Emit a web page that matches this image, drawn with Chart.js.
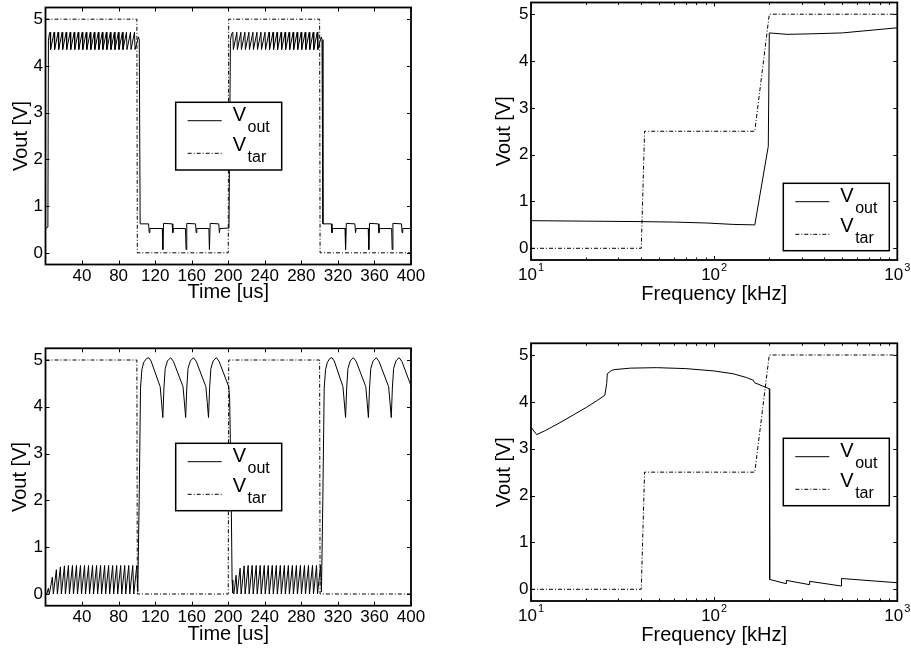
<!DOCTYPE html>
<html><head><meta charset="utf-8">
<script src="https://cdn.jsdelivr.net/npm/chart.js@4.4.1/dist/chart.umd.min.js"></script>
<style>
html,body{margin:0;padding:0;background:#fff;width:911px;height:654px;overflow:hidden}
.box{position:absolute}
</style></head><body>
<div class="box" style="left:0;top:0;width:455px;height:327px"><canvas id="c1"></canvas></div>
<div class="box" style="left:455px;top:0;width:456px;height:327px"><canvas id="c2"></canvas></div>
<div class="box" style="left:0;top:327px;width:455px;height:327px"><canvas id="c3"></canvas></div>
<div class="box" style="left:455px;top:327px;width:456px;height:327px"><canvas id="c4"></canvas></div>
<script>
// ---------- tick labels / categories ----------
const timeTicks = [40, 80, 120, 160, 200, 240, 280, 320, 360, 400];
const voltTicks = [0, 1, 2, 3, 4, 5];
const freqTicks = [10, 100, 1000];
const freqTickLabels = [['10', '1'], ['10', '2'], ['10', '3']];
const freqMinorTicks = [20, 30, 40, 50, 60, 70, 80, 90, 200, 300, 400, 500, 600, 700, 800, 900];
const legendMain = ['V', 'V'];
const legendSub = ['out', 'tar'];

// ---------- target voltage ----------
const timeVtar = [[0,5],[100,5],[100.5,0],[200,0],[200.5,5],[300,5],[300.5,0],[400,0]];
const freqVtar = [[10,0],[40,0],[41.7,2.5],[166.7,2.5],[200,5],[1000,5]];

// ---------- case A, time domain (top left) ----------
const timeA_high1 = [[0,0.52],[2.6,0.55],[3.2,4.55],[4.2,4.68],
 [5.0,4.72],[5.6,4.35],[9.4,4.72],[10.0,4.35],[13.8,4.72],[14.4,4.35],[18.2,4.72],[18.8,4.35],
 [22.6,4.72],[23.2,4.35],[27.0,4.72],[27.6,4.35],[31.4,4.72],[32.0,4.35],[35.8,4.72],[36.4,4.35],
 [40.2,4.72],[40.8,4.35],[44.6,4.72],[45.2,4.35],[49.0,4.72],[49.6,4.35],[53.4,4.72],[54.0,4.35],
 [57.8,4.72],[58.4,4.35],[62.2,4.72],[62.8,4.35],[66.6,4.72],[67.2,4.35],[71.0,4.72],[71.6,4.35],
 [75.4,4.72],[76.0,4.35],[79.8,4.72],[80.4,4.35],[84.2,4.72],[84.8,4.35],[88.6,4.72],[89.2,4.35],
 [93.0,4.72],[93.6,4.35],[97.4,4.72],[98.0,4.35],[101.8,4.62],[102.6,4.56]];
const timeA_low1 = [[103.6,0.62],[112.8,0.62],[113.5,0.43],[114.2,0.52],[127.8,0.52],[128.4,0.07],[129.2,0.63],
 [138.6,0.62],[139.3,0.43],[140.0,0.52],[153.2,0.52],[153.8,0.07],[154.6,0.63],[164.2,0.62],[164.9,0.43],
 [165.6,0.52],[178.8,0.52],[179.4,0.07],[180.2,0.63],[189.6,0.62],[190.3,0.43],[191.0,0.52],[200.8,0.53],
 [202.4,4.55],[203.6,4.68]];
const timeA_high2 = [[205.0,4.72],[205.6,4.35],[209.4,4.72],[210.0,4.35],[213.8,4.72],[214.4,4.35],[218.2,4.72],[218.8,4.35],
 [222.6,4.72],[223.2,4.35],[227.0,4.72],[227.6,4.35],[231.4,4.72],[232.0,4.35],[235.8,4.72],[236.4,4.35],
 [240.2,4.72],[240.8,4.35],[244.6,4.72],[245.2,4.35],[249.0,4.72],[249.6,4.35],[253.4,4.72],[254.0,4.35],
 [257.8,4.72],[258.4,4.35],[262.2,4.72],[262.8,4.35],[266.6,4.72],[267.2,4.35],[271.0,4.72],[271.6,4.35],
 [275.4,4.72],[276.0,4.35],[279.8,4.72],[280.4,4.35],[284.2,4.72],[284.8,4.35],[288.6,4.72],[289.2,4.35],
 [293.0,4.72],[293.6,4.35],[297.4,4.72],[298.0,4.35],[301.8,4.62],[302.6,4.56]];
const timeA_low2 = [[303.6,0.62],[312.8,0.62],[313.5,0.43],[314.2,0.52],[327.8,0.52],[328.4,0.07],[329.2,0.63],
 [338.6,0.62],[339.3,0.43],[340.0,0.52],[353.2,0.52],[353.8,0.07],[354.6,0.63],[364.2,0.62],[364.9,0.43],
 [365.6,0.52],[378.8,0.52],[379.4,0.07],[380.2,0.63],[389.6,0.62],[390.3,0.43],[391.0,0.52],[400,0.52]];

// ---------- case B, time domain (bottom left) ----------
const timeB_low1 = [[0,0.03],[1.5,0.0],[3.1,0.12],[4.2,0.0],[7.5,0.36],[8.6,0.0],[11.9,0.52],[13.0,0.0],
 [16.3,0.58],[17.4,0.0],[20.7,0.6],[21.8,0.0],[25.1,0.61],[26.2,0.0],[29.5,0.61],[30.6,0.0],[33.9,0.61],[35.0,0.0],
 [38.3,0.61],[39.4,0.0],[42.7,0.61],[43.8,0.0],[47.1,0.61],[48.2,0.0],[51.5,0.61],[52.6,0.0],[55.9,0.61],[57.0,0.0],
 [60.3,0.61],[61.4,0.0],[64.7,0.61],[65.8,0.0],[69.1,0.61],[70.2,0.0],[73.5,0.61],[74.6,0.0],[77.9,0.61],[79.0,0.0],
 [82.3,0.61],[83.4,0.0],[86.7,0.61],[87.8,0.0],[91.1,0.61],[92.2,0.0],[95.5,0.61],[96.6,0.0],[99.9,0.61],[101.0,0.05]];
const timeB_high1 = [[102.5,2.0],[104.0,4.4],[105.5,4.8],[107.5,4.95],[110.5,5.03],[113.0,5.05],[115.5,4.98],
 [125.5,4.43],[127.0,4.1],[128.4,3.77],[129.6,4.4],[131.0,4.82],[133.5,4.98],[137.0,5.05],[140.0,4.97],
 [150.5,4.43],[152.0,4.1],[153.4,3.77],[154.6,4.4],[156.0,4.82],[158.5,4.98],[162.0,5.05],[165.0,4.97],
 [175.5,4.43],[177.0,4.1],[178.4,3.77],[179.6,4.4],[181.0,4.82],[183.5,4.98],[187.0,5.05],[190.0,4.97],
 [200.5,4.43],[201.5,4.2],[203.0,2.5],[204.2,0.3]];
const timeB_low2 = [[205.0,0.02],[206.2,0.0],[208.6,0.4],[209.7,0.0],[213.0,0.55],[214.1,0.0],[217.4,0.6],[218.5,0.0],
 [221.8,0.61],[222.9,0.0],[226.2,0.61],[227.3,0.0],[230.6,0.61],[231.7,0.0],[235.0,0.61],[236.1,0.0],
 [239.4,0.61],[240.5,0.0],[243.8,0.61],[244.9,0.0],[248.2,0.61],[249.3,0.0],[252.6,0.61],[253.7,0.0],
 [257.0,0.61],[258.1,0.0],[261.4,0.61],[262.5,0.0],[265.8,0.61],[266.9,0.0],[270.2,0.61],[271.3,0.0],
 [274.6,0.61],[275.7,0.0],[279.0,0.61],[280.1,0.0],[283.4,0.61],[284.5,0.0],[287.8,0.61],[288.9,0.0],
 [292.2,0.61],[293.3,0.0],[296.6,0.61],[297.7,0.0],[301.0,0.61],[302.0,0.05]];
const timeB_high2 = [[303.5,2.0],[305.0,4.4],[306.5,4.8],[308.5,4.95],[311.0,5.03],[313.5,5.05],[316.0,4.98],
 [325.5,4.43],[327.0,4.1],[328.4,3.77],[329.6,4.4],[331.0,4.82],[333.5,4.98],[337.0,5.05],[340.0,4.97],
 [350.5,4.43],[352.0,4.1],[353.4,3.77],[354.6,4.4],[356.0,4.82],[358.5,4.98],[362.0,5.05],[365.0,4.97],
 [375.5,4.43],[377.0,4.1],[378.4,3.77],[379.6,4.4],[381.0,4.82],[383.5,4.98],[387.0,5.05],[390.0,4.97],
 [400,4.45]];

// ---------- frequency sweeps (right column) ----------
const freqA_vout = [[10,0.59],[20,0.58],[39.4,0.57],[60,0.56],[91,0.54],[127,0.51],[166.7,0.5],[197.5,2.18],
 [200,4.6],[250,4.57],[333,4.58],[500,4.6],[1000,4.71]];
const freqB_vout = [[10,3.46],[10.74,3.3],[12,3.39],[14,3.53],[17,3.72],[20,3.88],[23,4.03],[25.3,4.14],
 [25.9,4.39],[26.1,4.6],[27.5,4.67],[28.7,4.69],[35,4.72],[48.5,4.73],[70,4.71],[100,4.66],[127,4.6],
 [150,4.52],[164,4.46],[166,4.41],[200,4.28],[201,0.21],[247,0.12],[248,0.19],[330,0.1],[332,0.17],
 [494,0.07],[496,0.23],[1000,0.14]];

// ---------- drawing ----------
const FONT = '"Liberation Sans", Arial, Helvetica, sans-serif';
Chart.defaults.font.family = FONT;
Chart.defaults.color = '#000';

const toXY = arr => arr.map(p => ({x: p[0], y: p[1]}));

const matlabPlugin = {
  id: 'matlab',
  afterDraw(chart, args, o) {
    const ctx = chart.ctx, a = chart.chartArea;
    const xs = chart.scales.x, ys = chart.scales.y;
    ctx.save();
    ctx.strokeStyle = '#000';
    ctx.lineWidth = 1;
    ctx.beginPath();
    xs.ticks.forEach(t => {
      const p = Math.round(xs.getPixelForValue(t.value)) + 0.5;
      ctx.moveTo(p, a.bottom); ctx.lineTo(p, a.bottom - 4);
      ctx.moveTo(p, a.top); ctx.lineTo(p, a.top + 4);
    });
    (o.xMinor || []).forEach(v => {
      const p = Math.round(xs.getPixelForValue(v)) + 0.5;
      ctx.moveTo(p, a.bottom); ctx.lineTo(p, a.bottom - 2.5);
      ctx.moveTo(p, a.top); ctx.lineTo(p, a.top + 2.5);
    });
    ys.ticks.forEach(t => {
      const p = Math.round(ys.getPixelForValue(t.value)) + 0.5;
      ctx.moveTo(a.left, p); ctx.lineTo(a.left + 4, p);
      ctx.moveTo(a.right, p); ctx.lineTo(a.right - 4, p);
    });
    ctx.stroke();
    ctx.lineWidth = 1.8;
    ctx.strokeRect(a.left, a.top, a.right - a.left, a.bottom - a.top);

    if (o.logLabels) {
      ctx.fillStyle = '#000';
      ctx.textBaseline = 'alphabetic';
      ctx.textAlign = 'left';
      xs.ticks.forEach((t, i) => {
        const lab = o.logLabels[i];
        const p = xs.getPixelForValue(t.value);
        ctx.font = '17px ' + FONT;
        const w1 = ctx.measureText(lab[0]).width;
        ctx.font = '11px ' + FONT;
        const w2 = ctx.measureText(lab[1]).width;
        const x0 = p - (w1 + w2 + 1) / 2;
        const base = a.bottom + o.logBase;
        ctx.font = '17px ' + FONT;
        ctx.fillText(lab[0], x0, base);
        ctx.font = '11px ' + FONT;
        ctx.fillText(lab[1], x0 + w1 + 1, base - 8.4);
      });
    }

    const L = o.legend;
    ctx.fillStyle = '#fff';
    ctx.fillRect(L.x, L.y, L.w, L.h);
    ctx.lineWidth = 1.5;
    ctx.strokeStyle = '#000';
    ctx.strokeRect(L.x, L.y, L.w, L.h);
    const lineY = [18.4, 51], vBase = [18.7, 48.7];
    const dashes = [[], [4, 2, 1, 2]];
    for (let i = 0; i < 2; i++) {
      ctx.beginPath();
      ctx.lineWidth = 1;
      ctx.setLineDash(dashes[i]);
      ctx.moveTo(L.x + 12, L.y + lineY[i]);
      ctx.lineTo(L.x + 46, L.y + lineY[i]);
      ctx.stroke();
      ctx.setLineDash([]);
      ctx.fillStyle = '#000';
      ctx.textAlign = 'left';
      ctx.textBaseline = 'alphabetic';
      ctx.font = '20px ' + FONT;
      ctx.fillText(legendMain[i], L.x + 57, L.y + vBase[i]);
      const wv = ctx.measureText(legendMain[i]).width;
      ctx.font = '16px ' + FONT;
      ctx.fillText(legendSub[i], L.x + 57 + wv + 1.5, L.y + vBase[i] + 10.5);
    }
    ctx.restore();
  }
};

function makeChart(id, c) {
  const isLog = c.log;
  return new Chart(document.getElementById(id), {
    type: 'line',
    data: { datasets: [
      { label: 'Vout', data: toXY(c.vout), borderColor: '#000', borderWidth: 1, pointRadius: 0, tension: 0, fill: false },
      { label: 'Vtar', data: toXY(c.vtar), borderColor: '#000', borderWidth: 1, borderDash: [4, 2, 1, 2], pointRadius: 0, tension: 0, fill: false }
    ]},
    options: {
      responsive: true, maintainAspectRatio: false, animation: false, devicePixelRatio: 1, events: [],
      layout: { padding: c.pad },
      plugins: {
        legend: { display: false }, tooltip: { enabled: false },
        matlab: { legend: c.legend, xMinor: isLog ? freqMinorTicks : null, logLabels: isLog ? freqTickLabels : null, logBase: c.logBase }
      },
      scales: {
        x: {
          type: isLog ? 'logarithmic' : 'linear',
          min: isLog ? 10 : 0, max: isLog ? 1000 : 400,
          grid: { display: false, drawTicks: false, tickLength: 0 }, border: { display: false },
          ticks: { display: !isLog, font: { size: 17 }, color: '#000', padding: c.xtp, maxRotation: 0, autoSkip: false, includeBounds: false },
          afterBuildTicks: s => { s.ticks = (isLog ? freqTicks : timeTicks).map(v => ({ value: v })); },
          afterFit: s => { s.height = c.xh; s.paddingLeft = 0; s.paddingRight = 0; },
          title: { display: true, text: isLog ? 'Frequency [kHz]' : 'Time [us]', color: '#000', font: { size: 20 }, padding: { top: 0, bottom: c.xtitle } }
        },
        y: {
          type: 'linear', min: -0.25, max: 5.25,
          grid: { display: false, drawTicks: false, tickLength: 0 }, border: { display: false },
          ticks: { font: { size: 17 }, color: '#000', padding: 2.5, includeBounds: false },
          afterBuildTicks: s => { s.ticks = voltTicks.map(v => ({ value: v })); },
          afterFit: s => { s.width = c.yw; s.paddingTop = 0; s.paddingBottom = 0; },
          title: { display: true, text: 'Vout [V]', color: '#000', font: { size: 20 }, padding: { top: c.ytitle, bottom: 0 } }
        }
      }
    },
    plugins: [matlabPlugin]
  });
}

makeChart('c1', {
  vout: [].concat(timeA_high1, timeA_low1, timeA_high2, timeA_low2), vtar: timeVtar, log: false,
  pad: { left: 0, top: 7.5, right: 44, bottom: 0 }, yw: 45.5, xh: 62.5, xtp: 1.5, xtitle: 22.5, ytitle: 9,
  legend: { x: 175.7, y: 102.3, w: 106, h: 67.7 }
});
makeChart('c2', {
  vout: freqA_vout, vtar: freqVtar, log: true,
  pad: { left: 0, top: 2.5, right: 13.7, bottom: 0 }, yw: 76, xh: 67, xtp: 0, xtitle: 20.4, ytitle: 37, logBase: 19.5,
  legend: { x: 328.3, y: 183.3, w: 106, h: 67.4 }
});
makeChart('c3', {
  vout: [].concat(timeB_low1, timeB_high1, timeB_low2, timeB_high2), vtar: timeVtar, log: false,
  pad: { left: 0, top: 21.3, right: 44, bottom: 0 }, yw: 45.5, xh: 48.3, xtp: 1.0, xtitle: 8, ytitle: 8.5,
  legend: { x: 175.7, y: 116.3, w: 106, h: 67.4 }
});
makeChart('c4', {
  vout: freqB_vout, vtar: freqVtar, log: true,
  pad: { left: 0, top: 16.3, right: 13.7, bottom: 0 }, yw: 76, xh: 53, xtp: 0, xtitle: 7, ytitle: 37.5, logBase: 19.5,
  legend: { x: 328.3, y: 111.3, w: 106, h: 67.4 }
});
</script>
</body></html>
